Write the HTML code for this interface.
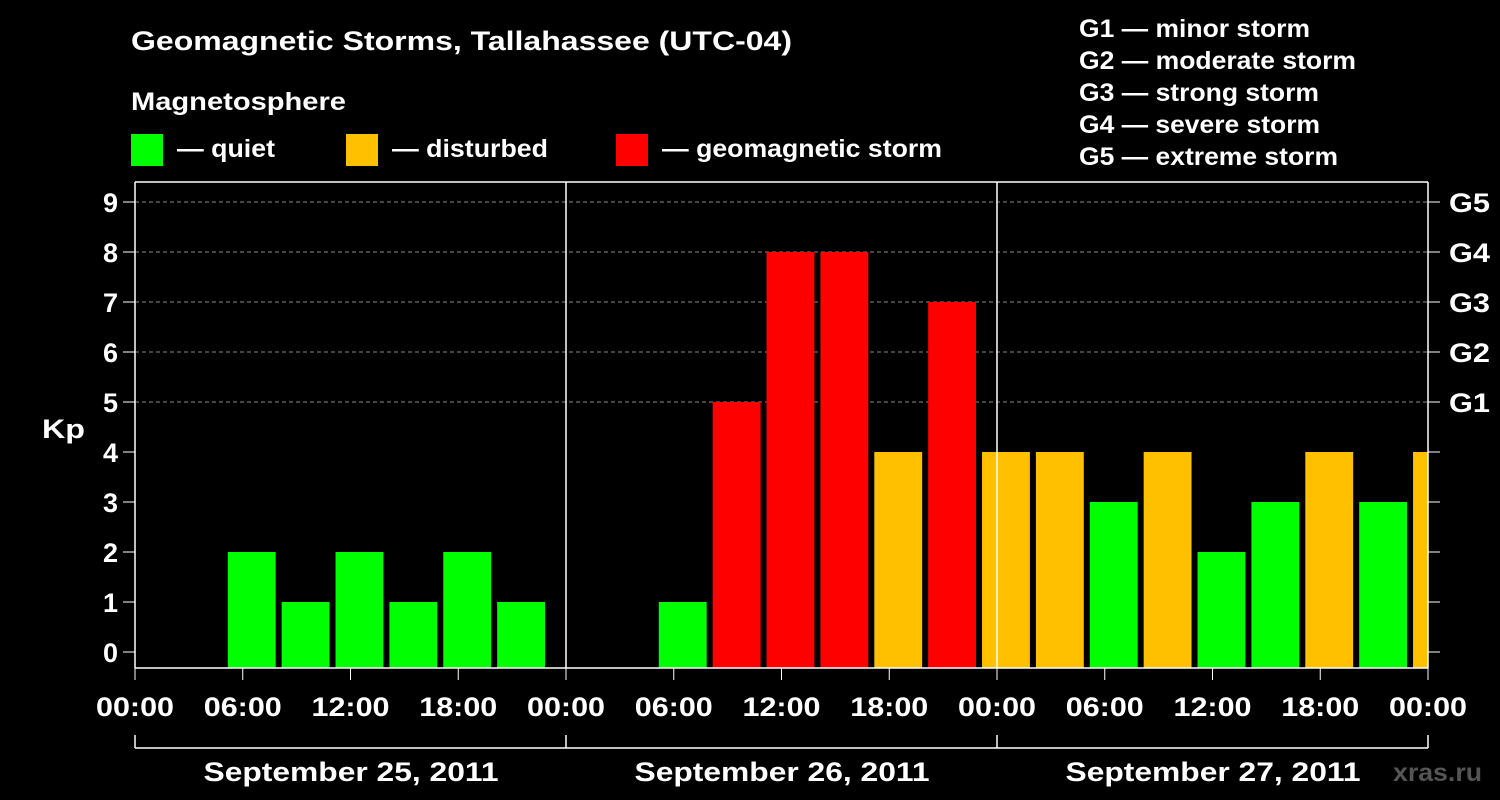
<!DOCTYPE html>
<html><head><meta charset="utf-8"><style>
html,body{margin:0;padding:0;background:#000;}
svg{display:block;font-family:"Liberation Sans",Arial,sans-serif;font-weight:bold;}
</style></head><body>
<svg id="chart" width="1500" height="800" viewBox="0 0 1500 800">
<rect width="1500" height="800" fill="#000"/>
<text x="131" y="50" fill="#fff" font-size="27" textLength="661" lengthAdjust="spacingAndGlyphs">Geomagnetic Storms, Tallahassee (UTC-04)</text>
<text x="131" y="110" fill="#fff" font-size="25" textLength="215" lengthAdjust="spacingAndGlyphs">Magnetosphere</text>
<g>
<rect x="131" y="134" width="32" height="32" fill="#00ff00"/>
<text x="177" y="157" fill="#fff" font-size="25" textLength="98" lengthAdjust="spacingAndGlyphs">— quiet</text>
<rect x="346" y="134" width="32" height="32" fill="#ffc000"/>
<text x="392" y="157" fill="#fff" font-size="25" textLength="156" lengthAdjust="spacingAndGlyphs">— disturbed</text>
<rect x="616" y="134" width="32" height="32" fill="#ff0000"/>
<text x="662" y="157" fill="#fff" font-size="25" textLength="280" lengthAdjust="spacingAndGlyphs">— geomagnetic storm</text>
</g>
<g fill="#fff" font-size="25">
<text x="1079" y="37" textLength="231" lengthAdjust="spacingAndGlyphs">G1 — minor storm</text>
<text x="1079" y="69" textLength="277" lengthAdjust="spacingAndGlyphs">G2 — moderate storm</text>
<text x="1079" y="101" textLength="240" lengthAdjust="spacingAndGlyphs">G3 — strong storm</text>
<text x="1079" y="133" textLength="241" lengthAdjust="spacingAndGlyphs">G4 — severe storm</text>
<text x="1079" y="165" textLength="259" lengthAdjust="spacingAndGlyphs">G5 — extreme storm</text>
</g>
<text x="42" y="438" fill="#fff" font-size="27" textLength="43" lengthAdjust="spacingAndGlyphs">Kp</text>
<text x="1393" y="781" fill="#555" font-size="25" textLength="89" lengthAdjust="spacingAndGlyphs">xras.ru</text>
<g id="grid"></g><g id="bars"></g><g id="axes"></g>
</svg>
<script>
const kpValues=[0,0,2,1,2,1,2,1,0, 0,1,5,8,8,4,7,4, 4,3,4,2,3,4,3,4];
const slotStartHours=[-1,2,5,8,11,14,17,20,23, 26,29,32,35,38,41,44,47, 50,53,56,59,62,65,68,71];
const yTicks=[0,1,2,3,4,5,6,7,8,9];
const gLabels=["","","","","","G1","G2","G3","G4","G5"];
const xTickHours=[0,6,12,18,24,30,36,42,48,54,60,66,72];
const xTickLabels=["00:00","06:00","12:00","18:00","00:00","06:00","12:00","18:00","00:00","06:00","12:00","18:00","00:00"];
const dayLabels=["September 25, 2011","September 26, 2011","September 27, 2011"];
const NS="http://www.w3.org/2000/svg";
const L=135,R=1428,T=182,B=668;
const xS=h=>L+h*(R-L)/72;
const yS=v=>652-v*50;
function mk(p,tag,a){const e=document.createElementNS(NS,tag);for(const k in a)e.setAttribute(k,a[k]);p.appendChild(e);return e;}
const grid=document.getElementById('grid'),bars=document.getElementById('bars'),axes=document.getElementById('axes');
yTicks.forEach((v,i)=>{
 if(v>=5){const g=mk(grid,'line',{x1:L,x2:R,y1:yS(v),y2:yS(v),stroke:'#888','stroke-dasharray':'4,3','stroke-width':1});
 
 }
 const t=mk(axes,'line',{x1:L-12,x2:L,y1:yS(v),y2:yS(v),stroke:'#fff','stroke-width':1});
 
 
 const t2=mk(axes,'line',{x1:R,x2:R+12,y1:yS(v),y2:yS(v),stroke:'#fff','stroke-width':1});
 
 
 const lb=mk(axes,'text',{x:L-17,y:yS(v)+10,fill:'#fff','font-size':27,'text-anchor':'end'});lb.textContent=v;
 
 
 if(gLabels[i]){const gl=mk(axes,'text',{x:R+21,y:yS(v)+10,fill:'#fff','font-size':27,textLength:41,lengthAdjust:'spacingAndGlyphs'});gl.textContent=gLabels[i];
 
 }
});
const clip=mk(document.getElementById('chart'),'clipPath',{id:'pc'});mk(clip,'rect',{x:L,y:T,width:R-L,height:B-T});
bars.setAttribute('clip-path','url(#pc)');
kpValues.forEach((v,i)=>{
 if(v<=0)return;
 const x0=xS(slotStartHours[i])+3,x1=xS(slotStartHours[i]+3)-3;
 const c=v>=5?'#ff0000':(v>=4?'#ffc000':'#00ff00');
 const r=mk(bars,'rect',{x:x0,y:yS(v),width:x1-x0,height:B-yS(v),fill:c});
 
 
});
[[L,T,L,B],[L,B,R,B],[R,T,R,B],[L,T,R,T],[xS(24),T,xS(24),B],[xS(48),T,xS(48),B]].forEach(s=>{
 const l=mk(axes,'line',{x1:s[0],y1:s[1],x2:s[2],y2:s[3],stroke:'#fff','stroke-width':1.5});
 
 
});
xTickHours.forEach((h,i)=>{
 const t=mk(axes,'line',{x1:xS(h),x2:xS(h),y1:B,y2:B+12,stroke:'#fff','stroke-width':1});
 
 
 const lb=mk(axes,'text',{x:xS(h)-39,y:716,fill:'#fff','font-size':27,textLength:78,lengthAdjust:'spacingAndGlyphs'});lb.textContent=xTickLabels[i];
 
 
});
const br=mk(axes,'line',{x1:L,x2:R,y1:748,y2:748,stroke:'#fff','stroke-width':1.5});


[0,24,48,72].forEach(h=>{const v=mk(axes,'line',{x1:xS(h),x2:xS(h),y1:735,y2:748,stroke:'#fff','stroke-width':1.5});
 
 });
dayLabels.forEach((d,i)=>{const t=mk(axes,'text',{x:xS(i*24+12)-147,y:781,fill:'#fff','font-size':27,textLength:295,lengthAdjust:'spacingAndGlyphs'});t.textContent=d;
 
 });
</script>
</body></html>
